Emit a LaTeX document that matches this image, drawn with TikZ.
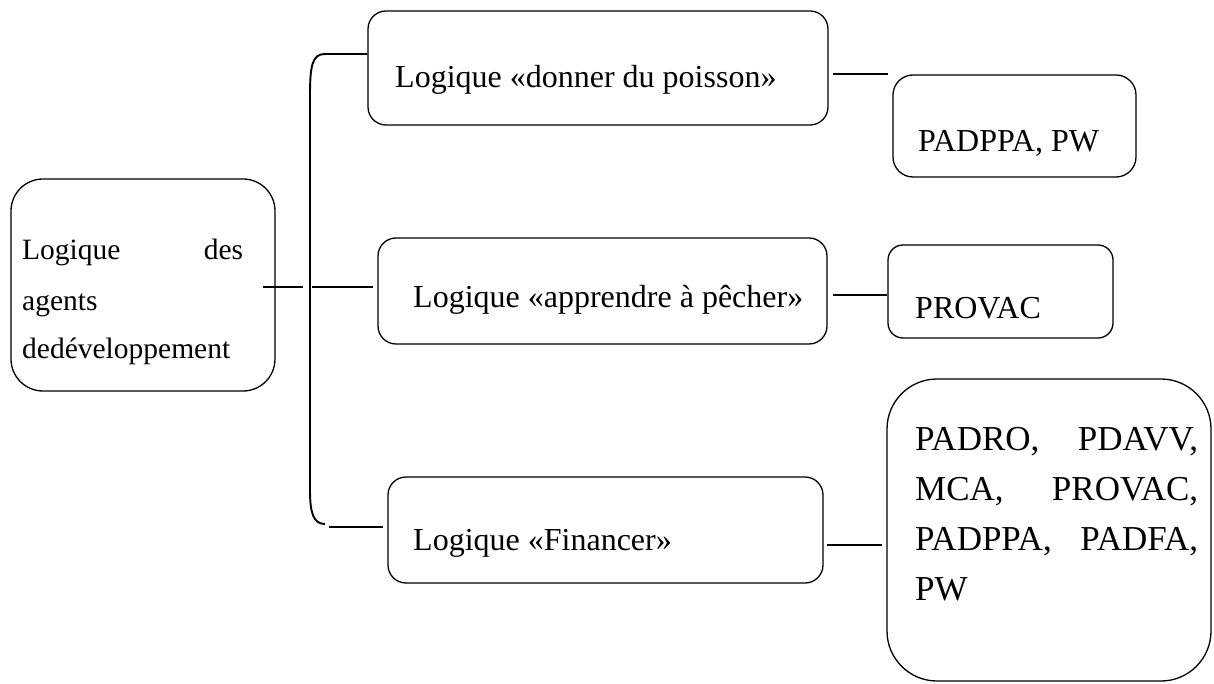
\documentclass[tikz,border=0pt]{standalone}
\usepackage{fontspec}
\setmainfont{Liberation Serif}
\begin{document}
\begin{tikzpicture}[x=1pt, y=-1pt,
  box/.style={draw, line width=1.3pt, inner sep=0pt, rounded corners=#1},
  box/.default=18pt,
  link/.style={line width=1.9pt},
  txt/.style={anchor=base west, inner sep=0pt, font=\fontsize{32}{38}\selectfont},
  small/.style={font=\fontsize{29.5}{36}\selectfont},
  large/.style={font=\fontsize{35}{42}\selectfont}]

  \useasboundingbox (0,0) rectangle (1214,684);

  % boxes
  \node[box=32pt, minimum width=264pt, minimum height=212pt] (agents) at (143,285) {};
  \node[box, minimum width=460pt, minimum height=114pt] (donner) at (598,68) {};
  \node[box=20pt, minimum width=243pt, minimum height=102pt] (padppa) at (1014.5,126) {};
  \node[box, minimum width=449pt, minimum height=106pt] (apprendre) at (602.5,291) {};
  \node[box=15pt, minimum width=225pt, minimum height=93pt] (provac) at (1000.5,291.5) {};
  \node[box, minimum width=435pt, minimum height=106pt] (financer) at (605.5,530) {};
  \node[box=50pt, minimum width=324pt, minimum height=302pt] (projets) at (1049,530) {};

  % texts
  \node[txt, small] (agents1) at (22,260) {\makebox[221pt]{Logique\hfill des}};
  \node[txt, small] (agents2) at (22,310) {agents};
  \node[txt, small] (agents3) at (22,358) {dedéveloppement};

  \node[txt] (donnertxt) at (395,88) {Logique «donner du poisson»};
  \node[txt] (padppatxt) at (918,152) {PADPPA, PW};
  \node[txt] (apprendretxt) at (413,308) {Logique «apprendre à pêcher»};
  \node[txt] (provactxt) at (915,318) {PROVAC};
  \node[txt] (financertxt) at (413,550) {Logique «Financer»};

  \node[txt, large] (projets1) at (915,450) {\makebox[283pt]{PADRO,\hfill PDAVV,}};
  \node[txt, large] (projets2) at (915,500) {\makebox[283pt]{MCA,\hfill PROVAC,}};
  \node[txt, large] (projets3) at (915,550) {\makebox[283pt]{PADPPA,\hfill PADFA,}};
  \node[txt, large] (projets4) at (915,600) {PW};

  % bracket
  \coordinate (brtop) at (325,54);
  \coordinate (brbot) at (325,524);
  \draw[link] (donner.west |- brtop) -- (brtop) .. controls (312,54) and (310,66) .. (310,96)
    -- (310,490) .. controls (310,512) and (313,524) .. (brbot);

  % connectors
  \coordinate (m0) at (263,287);
  \coordinate (m1) at (303,287);
  \coordinate (m2) at (312,287);
  \coordinate (m3) at (373,287);
  \draw[link] (m0) -- (m1);
  \draw[link] (m2) -- (m3);

  \coordinate (b0) at (329,527);
  \coordinate (b1) at (383,527);
  \draw[link] (b0) -- (b1);

  \coordinate (r1a) at (833,74);
  \coordinate (r1b) at (888,74);
  \draw[link] (r1a) -- (r1b);
  \coordinate (r2a) at (833,295);
  \coordinate (r2b) at (887,295);
  \draw[link] (r2a) -- (r2b);
  \coordinate (r3a) at (827,545);
  \coordinate (r3b) at (882,545);
  \draw[link] (r3a) -- (r3b);

\end{tikzpicture}
\end{document}
